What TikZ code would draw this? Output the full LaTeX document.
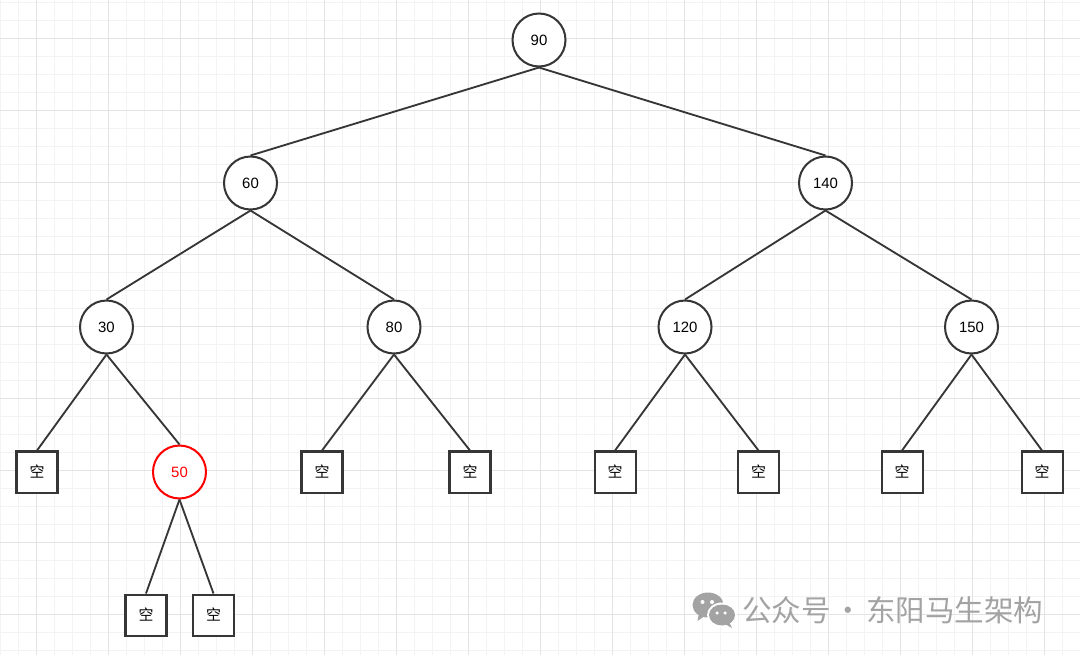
\documentclass[tikz,border=0pt]{standalone}
\usepackage{fontspec}
\setmainfont{Liberation Sans}
\newfontfamily\cjk{Noto Sans CJK SC}
\usetikzlibrary{positioning}
\definecolor{edgegray}{HTML}{363636}
\definecolor{minorgrid}{HTML}{F3F3F3}
\definecolor{majorgrid}{HTML}{E4E4E4}
\definecolor{markgray}{HTML}{A3A3A3}

\begin{document}
\begin{tikzpicture}[
    on grid,
    keynode/.style={circle, draw=edgegray, line width=1.15pt, fill=white, minimum size=1.06cm, inner sep=0pt, font=\fontsize{8.5}{10}\selectfont},
    newnode/.style={keynode, draw=red, text=red},
    nilnode/.style={rectangle, draw=edgegray, line width=1.15pt, fill=white, minimum size=0.82cm, inner sep=0pt, font=\cjk\fontsize{8.5}{10}\selectfont},
    link/.style={draw=edgegray, line width=1.05pt},
    finegrid/.style={draw=minorgrid, line width=0.5pt},
    boldgrid/.style={draw=majorgrid, line width=0.6pt}
]
    \useasboundingbox[fill=white] (0,0) rectangle (21.6,-13.1);

    % Background grid
    \foreach \i in {0,...,59}
        \draw[finegrid] ({0.01+0.36*\i},0) -- ++(0,-13.1);
    \foreach \j in {0,...,36}
        \draw[finegrid] (0,{-0.05-0.36*\j}) -- ++(21.6,0);
    \foreach \i in {0,...,14}
        \draw[boldgrid] ({0.73+1.44*\i},0) -- ++(0,-13.1);
    \foreach \j in {0,...,8}
        \draw[boldgrid] (0,{-0.77-1.44*\j}) -- ++(21.6,0);

    % Tree
    \node[keynode] (n90) at (10.78,-0.80) {90};
    \node[keynode, below left=2.86cm and 5.77cm of n90] (n60) {60};
    \node[keynode, below right=2.86cm and 5.73cm of n90] (n140) {140};
    \node[keynode, below left=2.88cm and 2.88cm of n60] (n30) {30};
    \node[keynode, below right=2.88cm and 2.87cm of n60] (n80) {80};
    \node[keynode, below left=2.88cm and 2.81cm of n140] (n120) {120};
    \node[keynode, below right=2.88cm and 2.92cm of n140] (n150) {150};

    \node[nilnode, below left=2.90cm and 1.39cm of n30] (nil1) {空};
    \node[newnode, below right=2.90cm and 1.46cm of n30] (n50) {50};
    \node[nilnode, below left=2.90cm and 1.44cm of n80] (nil2) {空};
    \node[nilnode, below right=2.90cm and 1.52cm of n80] (nil3) {空};
    \node[nilnode, below left=2.90cm and 1.40cm of n120] (nil4) {空};
    \node[nilnode, below right=2.90cm and 1.47cm of n120] (nil5) {空};
    \node[nilnode, below left=2.90cm and 1.39cm of n150] (nil6) {空};
    \node[nilnode, below right=2.90cm and 1.41cm of n150] (nil7) {空};

    \node[nilnode, below left=2.86cm and 0.67cm of n50] (nil8) {空};
    \node[nilnode, below right=2.86cm and 0.68cm of n50] (nil9) {空};

    \path[link] (n90.south) -- (n60.north);
    \path[link] (n90.south) -- (n140.north);
    \path[link] (n60.south) -- (n30.north);
    \path[link] (n60.south) -- (n80.north);
    \path[link] (n140.south) -- (n120.north);
    \path[link] (n140.south) -- (n150.north);
    \path[link] (n30.south) -- (nil1.north);
    \path[link] (n30.south) -- (n50.north);
    \path[link] (n80.south) -- (nil2.north);
    \path[link] (n80.south) -- (nil3.north);
    \path[link] (n120.south) -- (nil4.north);
    \path[link] (n120.south) -- (nil5.north);
    \path[link] (n150.south) -- (nil6.north);
    \path[link] (n150.south) -- (nil7.north);
    \path[link] (n50.south) -- (nil8.north);
    \path[link] (n50.south) -- (nil9.north);

    % Watermark
    \fill[markgray] (14.16,-12.10) ellipse (0.31cm and 0.25cm);
    \fill[markgray] (13.98,-12.26) -- (13.95,-12.42) -- (14.12,-12.30) -- cycle;
    \fill[white] (14.44,-12.30) ellipse (0.30cm and 0.25cm);
    \fill[markgray] (14.44,-12.30) ellipse (0.26cm and 0.21cm);
    \fill[markgray] (14.58,-12.44) -- (14.64,-12.56) -- (14.50,-12.48) -- cycle;
    \fill[white] (14.05,-12.04) circle (0.04cm);
    \fill[white] (14.24,-12.04) circle (0.04cm);
    \fill[white] (14.34,-12.26) circle (0.035cm);
    \fill[white] (14.50,-12.26) circle (0.035cm);
    \node[font=\cjk\fontsize{16.8}{19}\selectfont, text=markgray, anchor=west, inner sep=0pt] (mark) at (14.84,-12.21) {公众号\hspace{0.1em}·\hspace{0.1em}东阳马生架构};
\end{tikzpicture}
\end{document}
